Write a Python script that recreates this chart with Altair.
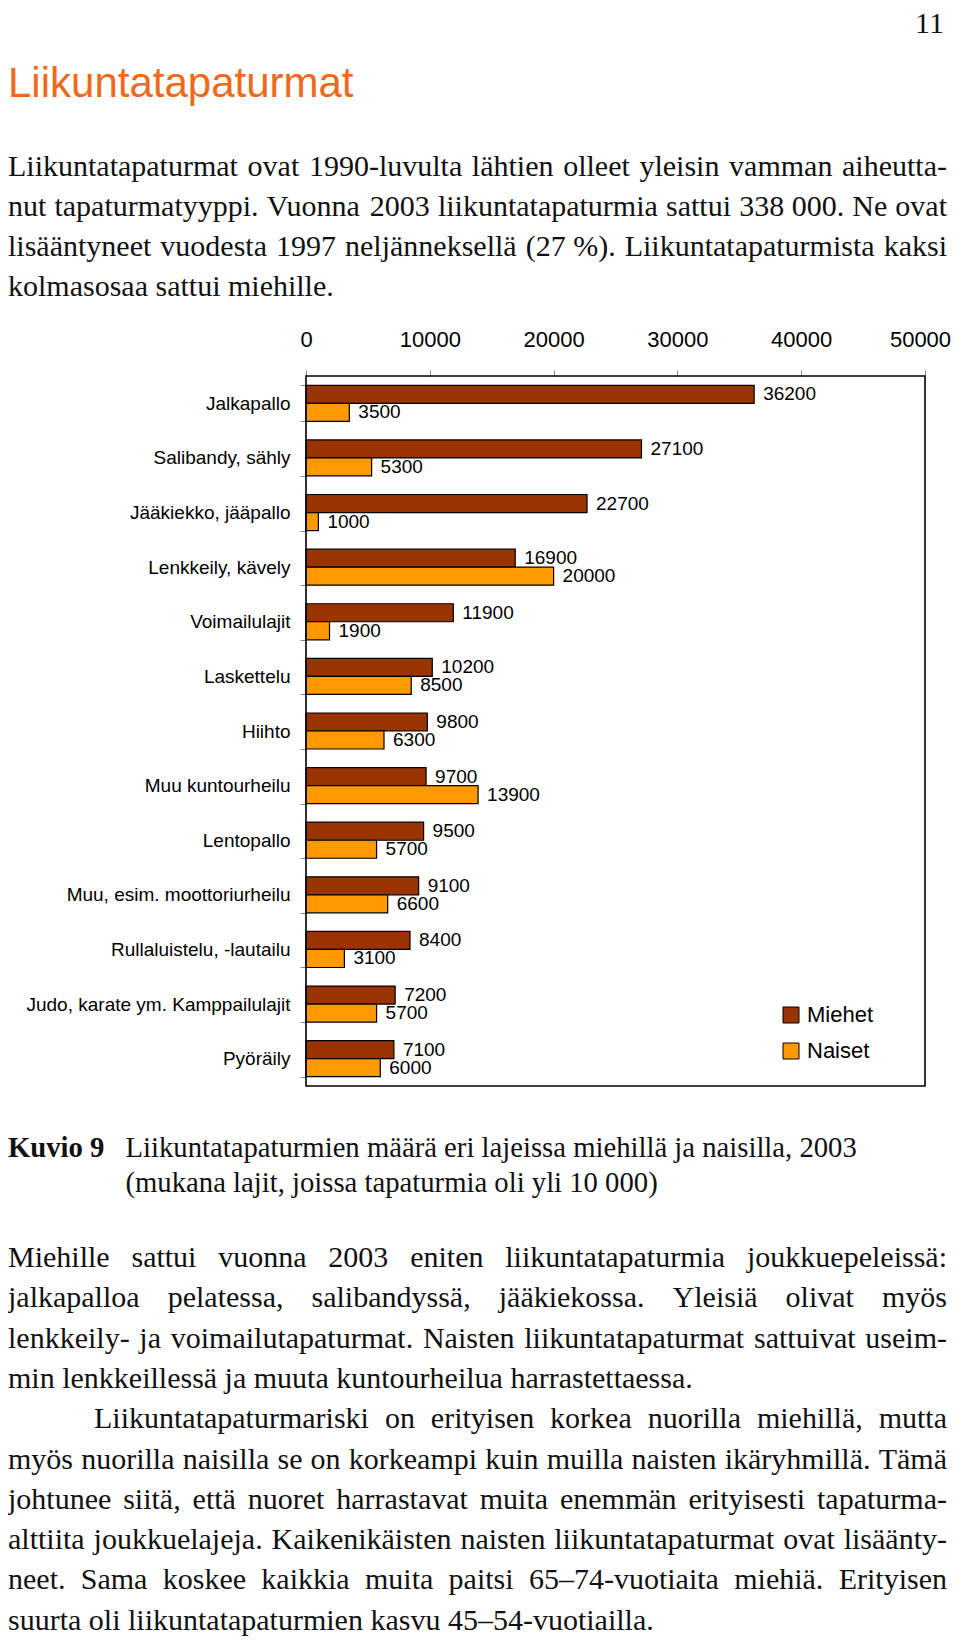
import altair as alt
import pandas as pd

# ---------------- data ----------------
categories = [
    "Jalkapallo", "Salibandy, sähly", "Jääkiekko, jääpallo", "Lenkkeily, kävely",
    "Voimailulajit", "Laskettelu", "Hiihto", "Muu kuntourheilu", "Lentopallo",
    "Muu, esim. moottoriurheilu", "Rullaluistelu, -lautailu",
    "Judo, karate ym. Kamppailulajit", "Pyöräily",
]
miehet = [36200, 27100, 22700, 16900, 11900, 10200, 9800, 9700, 9500, 9100, 8400, 7200, 7100]
naiset = [3500, 5300, 1000, 20000, 1900, 8500, 6300, 13900, 5700, 6600, 3100, 5700, 6000]
series = ["Miehet", "Naiset"]
colors = ["#993300", "#FF9900"]
x_ticks = [0, 10000, 20000, 30000, 40000, 50000]

page_number = "11"
heading = "Liikuntatapaturmat"
intro_lines = [
    "Liikuntatapaturmat ovat 1990-luvulta lähtien olleet yleisin vamman aiheutta-",
    "nut tapaturmatyyppi. Vuonna 2003 liikuntatapaturmia sattui 338\u00a0000. Ne ovat",
    "lisääntyneet vuodesta 1997 neljänneksellä (27\u00a0%). Liikuntatapaturmista kaksi",
    "kolmasosaa sattui miehille.",
]
caption_label = "Kuvio 9"
caption_lines = [
    "Liikuntatapaturmien määrä eri lajeissa miehillä ja naisilla, 2003",
    "(mukana lajit, joissa tapaturmia oli yli 10 000)",
]
body_lines = [
    "Miehille sattui vuonna 2003 eniten liikuntatapaturmia joukkuepeleissä:",
    "jalkapalloa pelatessa, salibandyssä, jääkiekossa. Yleisiä olivat myös",
    "lenkkeily- ja voimailutapaturmat. Naisten liikuntatapaturmat sattuivat useim-",
    "min lenkkeillessä ja muuta kuntourheilua harrastettaessa.",
    "Liikuntatapaturmariski on erityisen korkea nuorilla miehillä, mutta",
    "myös nuorilla naisilla se on korkeampi kuin muilla naisten ikäryhmillä. Tämä",
    "johtunee siitä, että nuoret harrastavat muita enemmän erityisesti tapaturma-",
    "alttiita joukkuelajeja. Kaikenikäisten naisten liikuntatapaturmat ovat lisäänty-",
    "neet. Sama koskee kaikkia muita paitsi 65–74-vuotiaita miehiä. Erityisen",
    "suurta oli liikuntatapaturmien kasvu 45–54-vuotiailla.",
]
body_justify = [True, True, True, False, True, True, True, True, True, False]
body_indent = [False, False, False, False, True, False, False, False, False, False]
intro_justify = [True, True, True, False]

# ---------------- layout helpers ----------------
W, H = 944, 1632
SERIF = "Liberation Serif"
SANS = "Liberation Sans"
BODY_SIZE = 30
CAPTION_SIZE = 28.7
LEFT, RIGHT = 0, 939

TIMES = {" ": 250, "\u00a0": 250, "(": 333, ")": 333, "%": 833, ",": 250, "-": 333,
         ".": 250, ":": 278, "–": 500, "ä": 444, "ö": 500, "Ä": 722, "Ö": 722}
TIMES.update({d: 500 for d in "0123456789"})
TIMES.update(dict(zip("ABCDEFGHIJKLMNOPQRSTUVWXYZ",
                      [722, 667, 667, 722, 611, 556, 722, 722, 333, 389, 722, 611, 889,
                       722, 722, 556, 722, 667, 556, 611, 722, 722, 944, 722, 722, 611])))
TIMES.update(dict(zip("abcdefghijklmnopqrstuvwxyz",
                      [444, 500, 444, 500, 444, 333, 500, 500, 278, 278, 500, 278, 778,
                       500, 500, 500, 500, 333, 389, 278, 500, 500, 722, 500, 500, 444])))


def text_width(s, size):
    return sum(TIMES.get(c, 500) for c in s) / 1000.0 * size


def layout_line(line, y, x0, x1, justify, size=BODY_SIZE):
    if not justify:
        return [dict(t=line, x=x0, y=y)]
    words = line.split(" ")
    widths = [text_width(w, size) for w in words]
    gap = (x1 - x0 - sum(widths)) / (len(words) - 1)
    rows, x = [], x0
    for w, wd in zip(words, widths):
        rows.append(dict(t=w, x=x, y=y))
        x += wd + gap
    return rows


def text_layer(rows, font, size, color, weight="normal", align="left"):
    return alt.Chart(pd.DataFrame(rows)).mark_text(
        align=align, baseline="middle", font=font, fontSize=size,
        color=color, fontWeight=weight,
    ).encode(
        x=alt.X("x:Q", scale=None, axis=None),
        y=alt.Y("y:Q", scale=None, axis=None),
        text="t:N",
    )


# serif body text rows
serif_rows = []
for i, (ln, j) in enumerate(zip(intro_lines, intro_justify)):
    serif_rows += layout_line(ln, 159 + 40 * i, LEFT, RIGHT, j)
for i, (ln, j, ind) in enumerate(zip(body_lines, body_justify, body_indent)):
    serif_rows += layout_line(ln, 1250 + 40.3 * i, 86 if ind else LEFT, RIGHT, j)

caption_rows = [dict(t=ln, x=117.5, y=1140 + 35 * i) for i, ln in enumerate(caption_lines)]

serif_text = text_layer(serif_rows, SERIF, BODY_SIZE, "#111111")
caption_text = text_layer(caption_rows, SERIF, CAPTION_SIZE, "#111111")
caption_bold = text_layer([dict(t=caption_label, x=0, y=1140)], SERIF, CAPTION_SIZE, "#111111", weight="bold")
page_no = text_layer([dict(t=page_number, x=936, y=16)], SERIF, 30, "#111111", align="right")
title = text_layer([dict(t=heading, x=0, y=76)], SANS, 42, "#EE6A1A")

# ---------------- bar chart ----------------
rows = []
for c, m, n in zip(categories, miehet, naiset):
    rows.append(dict(cat=c, sex="Miehet", value=m))
    rows.append(dict(cat=c, sex="Naiset", value=n))
df = pd.DataFrame(rows)

PX0, PX1 = 298, 917
PY0, PY1 = 368, 1078

base = alt.Chart(df).encode(
    y=alt.Y(
        "cat:N", sort=categories,
        scale=alt.Scale(domain=categories, range=[PY0, PY1], paddingInner=0.34, paddingOuter=0.17),
        axis=alt.Axis(
            title=None, orient="left", offset=-PX0, domain=False, grid=False,
            tickBand="extent", tickColor="#888888", tickSize=6, labelPadding=10,
            labelFont=SANS, labelFontSize=19, labelColor="black", labelLimit=400,
        ),
    ),
    yOffset=alt.YOffset("sex:N", sort=series, scale=alt.Scale(domain=series)),
    x=alt.X(
        "value:Q",
        scale=alt.Scale(domain=[0, 50000], range=[PX0, PX1], nice=False, zero=True),
        axis=alt.Axis(
            title=None, orient="top", offset=-PY0, values=x_ticks, format="d",
            domain=False, grid=False, tickColor="#888888", tickSize=6, labelPadding=19,
            labelFont=SANS, labelFontSize=22, labelColor="black",
            labelFlush=False, labelOverlap=False,
            labelOffset={"condition": {"test": "datum.value === 50000", "value": -5}, "value": 0},
        ),
    ),
)

bars = base.mark_bar(stroke="black", strokeWidth=1.2).encode(
    color=alt.Color(
        "sex:N",
        scale=alt.Scale(domain=series, range=colors),
        legend=alt.Legend(
            title=None, orient="none", legendX=772, legendY=996,
            symbolType="square", symbolSize=256, symbolStrokeColor="black",
            symbolStrokeWidth=1, labelFont=SANS, labelFontSize=22,
            labelColor="black", rowPadding=14, labelOffset=5,
        ),
    )
)

labels = base.mark_text(
    align="left", baseline="middle", dx=9, font=SANS, fontSize=19, color="black"
).encode(text=alt.Text("value:Q", format="d"))

frame = alt.Chart(pd.DataFrame({"f": [0]})).mark_rect(
    fillOpacity=0, stroke="black", strokeWidth=1.6
).encode(
    x=alt.value(PX0), x2=alt.value(PX1), y=alt.value(PY0), y2=alt.value(PY1)
)

chart = alt.layer(
    bars, labels, frame, serif_text, caption_text, caption_bold, page_no, title
).properties(
    width=W, height=H, padding=0,
    autosize=alt.AutoSizeParams(type="none"),
    background="white",
).configure_view(strokeWidth=0)

chart.save("out.html", embed_options={"renderer": "svg", "actions": False})
